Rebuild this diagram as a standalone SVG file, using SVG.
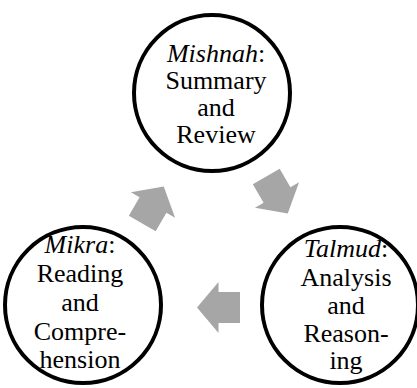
<svg xmlns="http://www.w3.org/2000/svg" width="417" height="388" viewBox="0 0 417 388">
  <style>
    .node circle { fill: #fff; stroke: #000; stroke-width: 4; }
    .node text { font-family: "Times New Roman", "Liberation Serif", "DejaVu Serif", serif; font-size: 26px; fill: #000; text-anchor: middle; }
    .it { font-style: italic; }
    .arrow { fill: #A6A6A6; }
  </style>
  <defs>
    <polygon id="blk" points="-21.5,-15.5 0,-15.5 0,-25.5 21.5,0 0,25.5 0,15.5 -21.5,15.5"/>
  </defs>
  <g id="connectors">
    <use href="#blk" class="arrow" transform="translate(153,205) rotate(-60)"/>
    <use href="#blk" class="arrow" transform="translate(277,195) rotate(60)"/>
    <use href="#blk" class="arrow" transform="translate(218.5,307.5) rotate(180)"/>
  </g>
  <g id="mishnah" class="node">
    <circle cx="212" cy="93" r="78"/>
    <text x="216" y="62" font-family="Liberation Serif"><tspan class="it">Mishnah</tspan>:</text>
    <text x="216" y="89" font-family="Liberation Serif">Summary</text>
    <text x="216" y="116">and</text>
    <text x="216" y="143">Review</text>
  </g>
  <g id="mikra" class="node">
    <circle cx="83" cy="305" r="78"/>
    <text x="80" y="253"><tspan class="it">Mikra</tspan>:</text>
    <text x="80" y="282">Reading</text>
    <text x="80" y="311">and</text>
    <text x="80" y="340">Compre-</text>
    <text x="80" y="368">hension</text>
  </g>
  <g id="talmud" class="node">
    <circle cx="340" cy="305" r="78"/>
    <text x="346" y="257"><tspan class="it">Talmud</tspan>:</text>
    <text x="346" y="286">Analysis</text>
    <text x="346" y="314">and</text>
    <text x="346" y="342">Reason-</text>
    <text x="346" y="369">ing</text>
  </g>
</svg>
